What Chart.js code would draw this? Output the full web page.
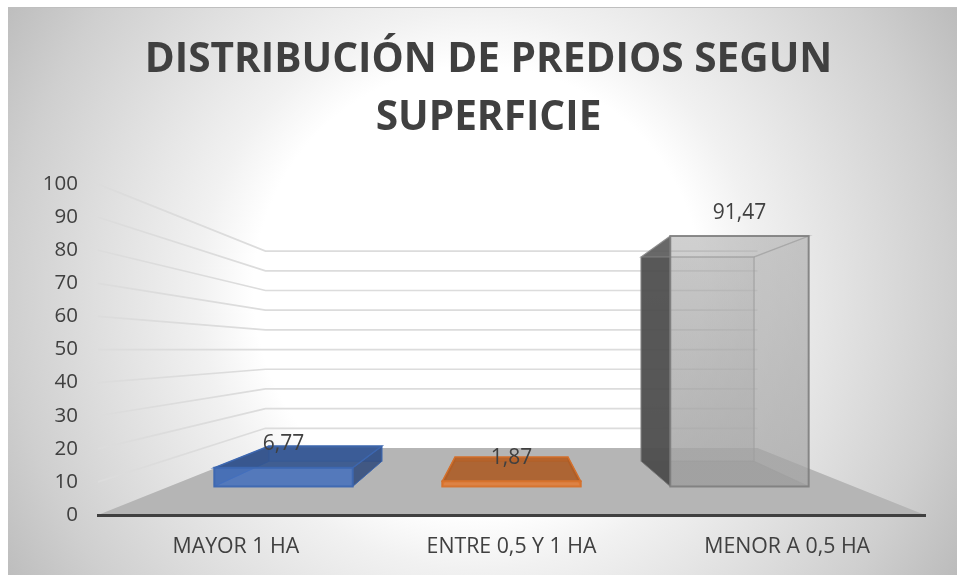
<!DOCTYPE html>
<html>
<head>
<meta charset="utf-8">
<script src="https://cdn.jsdelivr.net/npm/chart.js@4"></script>
<style>
body { margin: 0; background: #fff; }
#wrap { width: 957px; height: 577px; }
</style>
</head>
<body>
<div id="wrap"><canvas id="mycanvas" width="957" height="577"></canvas></div>
<script>
var categories = ['MAYOR 1 HA', 'ENTRE 0,5 Y 1 HA', 'MENOR A 0,5 HA'];
var values = [6.77, 1.87, 91.47];
var titleLines = ['DISTRIBUCIÓN DE PREDIOS SEGUN', 'SUPERFICIE'];
var barColors = ['#4472C4', '#ED7D31', '#A5A5A5'];

// depth of the fake 3D box: 1 = front plane, values below go towards the wall
var WALL = 0.595;
var BAR_FRONT = 0.827;
var BAR_BACK = 0.675;

function rgba(hex, a, k) {
    var r = parseInt(hex.substr(1, 2), 16) * k;
    var g = parseInt(hex.substr(3, 2), 16) * k;
    var b = parseInt(hex.substr(5, 2), 16) * k;
    return 'rgba(' + Math.round(r) + ',' + Math.round(g) + ',' + Math.round(b) + ',' + a + ')';
}

function projector(chart) {
    var area = chart.chartArea;
    var vx = (area.left + area.right) / 2;
    var vy = chart.scales.y.getPixelForValue(50);
    return function(x, y, s) {
        return [vx + (x - vx) * s, vy + (y - vy) * s];
    };
}

function poly(ctx, pts, fill, stroke, lw) {
    ctx.beginPath();
    ctx.moveTo(pts[0][0], pts[0][1]);
    for (var i = 1; i < pts.length; i++) ctx.lineTo(pts[i][0], pts[i][1]);
    ctx.closePath();
    if (fill) { ctx.fillStyle = fill; ctx.fill(); }
    if (stroke) { ctx.strokeStyle = stroke; ctx.lineWidth = lw; ctx.stroke(); }
}

var scene3d = {
    id: 'scene3d',
    afterLayout: function(chart) {
        // title sits a bit right of the canvas centre
        chart.titleBlock.left = 52;
    },
    beforeDraw: function(chart) {
        var ctx = chart.ctx;
        var g = ctx.createRadialGradient(478, 290, 0, 478, 290, 560);
        g.addColorStop(0, '#ffffff');
        g.addColorStop(0.4, '#ffffff');
        g.addColorStop(0.5, '#f1f1f1');
        g.addColorStop(0.84, '#cfcfcf');
        g.addColorStop(1, '#bbbbbb');
        ctx.fillStyle = g;
        ctx.fillRect(8, 7, 949, 568);
        ctx.fillStyle = '#bfbfbf';
        ctx.fillRect(8, 7, 949, 1);
    },
    beforeDatasetsDraw: function(chart) {
        var ctx = chart.ctx, area = chart.chartArea, p = projector(chart), yScale = chart.scales.y;
        poly(ctx, [p(area.left, area.bottom, 1), p(area.right, area.bottom, 1),
                   p(area.right, area.bottom, WALL), p(area.left, area.bottom, WALL)], '#b5b5b5');
        yScale.ticks.forEach(function(t) {
            if (t.value === 0) return;
            var py = yScale.getPixelForValue(t.value);
            var a = p(area.left, py, 1), b = p(area.left, py, WALL), c = p(area.right, py, WALL);
            ctx.beginPath();
            ctx.moveTo(a[0], a[1]);
            ctx.lineTo(b[0], b[1]);
            ctx.lineTo(c[0], c[1]);
            ctx.strokeStyle = '#dcdcdc';
            ctx.lineWidth = 1.7;
            ctx.stroke();
        });
    },
    beforeDatasetDraw: function(chart, args) {
        var ctx = chart.ctx, p = projector(chart);
        args.meta.data.forEach(function(el, i) {
            var c = barColors[i];
            var isGrey = i === 2;
            var alpha = 0.72;
            var x0 = el.x - el.width / 2, x1 = el.x + el.width / 2;
            var top = el.y, base = el.base;
            var f = BAR_FRONT, b = BAR_BACK;
            var edge = rgba(c, isGrey ? 0.85 : 0.9, isGrey ? 0.75 : 0.9);
            var thin = rgba(c, isGrey ? 0.45 : 0.35, 0.9);
            var fill = rgba(c, alpha, 1);
            var backFill = fill;
            if (isGrey) {
                // the tall bar fades from light at the top to darker at the floor
                var tp = p(0, top, f), bp = p(0, base, f);
                fill = ctx.createLinearGradient(0, tp[1], 0, bp[1]);
                fill.addColorStop(0, rgba(c, 0.36, 1));
                fill.addColorStop(1, rgba(c, 0.62, 1));
                backFill = fill;
            }
            poly(ctx, [p(x0, top, b), p(x1, top, b), p(x1, base, b), p(x0, base, b)], backFill, thin, 1.5);
            poly(ctx, [p(x0, base, f), p(x1, base, f), p(x1, base, b), p(x0, base, b)], rgba(c, alpha * 0.6, 0.75), thin, 1);
            poly(ctx, [p(x0, top, f), p(x0, top, b), p(x0, base, b), p(x0, base, f)], rgba(c, isGrey ? 0.9 : alpha, isGrey ? 0.44 : 0.7), edge, 1);
            poly(ctx, [p(x1, top, f), p(x1, top, b), p(x1, base, b), p(x1, base, f)], isGrey ? rgba(c, 0.3, 1) : rgba(c, alpha, 0.6), isGrey ? thin : edge, 1);
            poly(ctx, [p(x0, top, f), p(x1, top, f), p(x1, top, b), p(x0, top, b)], rgba(c, isGrey ? 0.22 : 0.8, isGrey ? 0.9 : 0.72), isGrey ? thin : edge, 1.5);
            poly(ctx, [p(x0, top, f), p(x1, top, f), p(x1, base, f), p(x0, base, f)], fill, edge, 2);
        });
        return false;
    },
    afterDatasetsDraw: function(chart) {
        var ctx = chart.ctx, p = projector(chart);
        chart.getDatasetMeta(0).data.forEach(function(el, i) {
            var front = p(el.x, el.y, BAR_FRONT);
            ctx.fillStyle = '#404040';
            ctx.font = '21px "Open Sans"';
            ctx.textAlign = 'center';
            ctx.textBaseline = 'middle';
            ctx.fillText(String(values[i]).replace('.', ','), front[0], front[1] - 23.5);
        });
    }
};

var chartdata = {
    labels: categories,
    datasets: [{
        label: 'Distribución',
        data: values,
        backgroundColor: barColors,
        barPercentage: 0.607,
        categoryPercentage: 1
    }]
};

var barGraph = new Chart(document.getElementById('mycanvas'), {
    type: 'bar',
    data: chartdata,
    plugins: [scene3d],
    options: {
        responsive: false,
        animation: false,
        layout: { padding: { left: 0, right: 32, top: 0, bottom: 0 } },
        plugins: {
            legend: { display: false },
            tooltip: { enabled: false },
            title: {
                display: true,
                text: titleLines,
                color: '#404040',
                font: { family: '"Open Sans"', size: 40.6, weight: 'bold', lineHeight: 1.43 },
                padding: { top: 31, bottom: 37 }
            }
        },
        scales: {
            x: {
                afterFit: function(s) { s.height = 62; },
                grid: { display: false },
                border: { display: true, color: '#404040', width: 3, z: 1 },
                ticks: { color: '#404040', font: { family: '"Open Sans"', size: 21.3 }, padding: 11, maxRotation: 0 }
            },
            y: {
                min: 0,
                max: 100,
                afterFit: function(s) { s.width = 98; },
                grid: { display: false, drawTicks: false },
                border: { display: false },
                ticks: { stepSize: 10, color: '#404040', font: { family: '"Open Sans"', size: 20.5 }, padding: 20 }
            }
        }
    }
});
</script>
</body>
</html>
